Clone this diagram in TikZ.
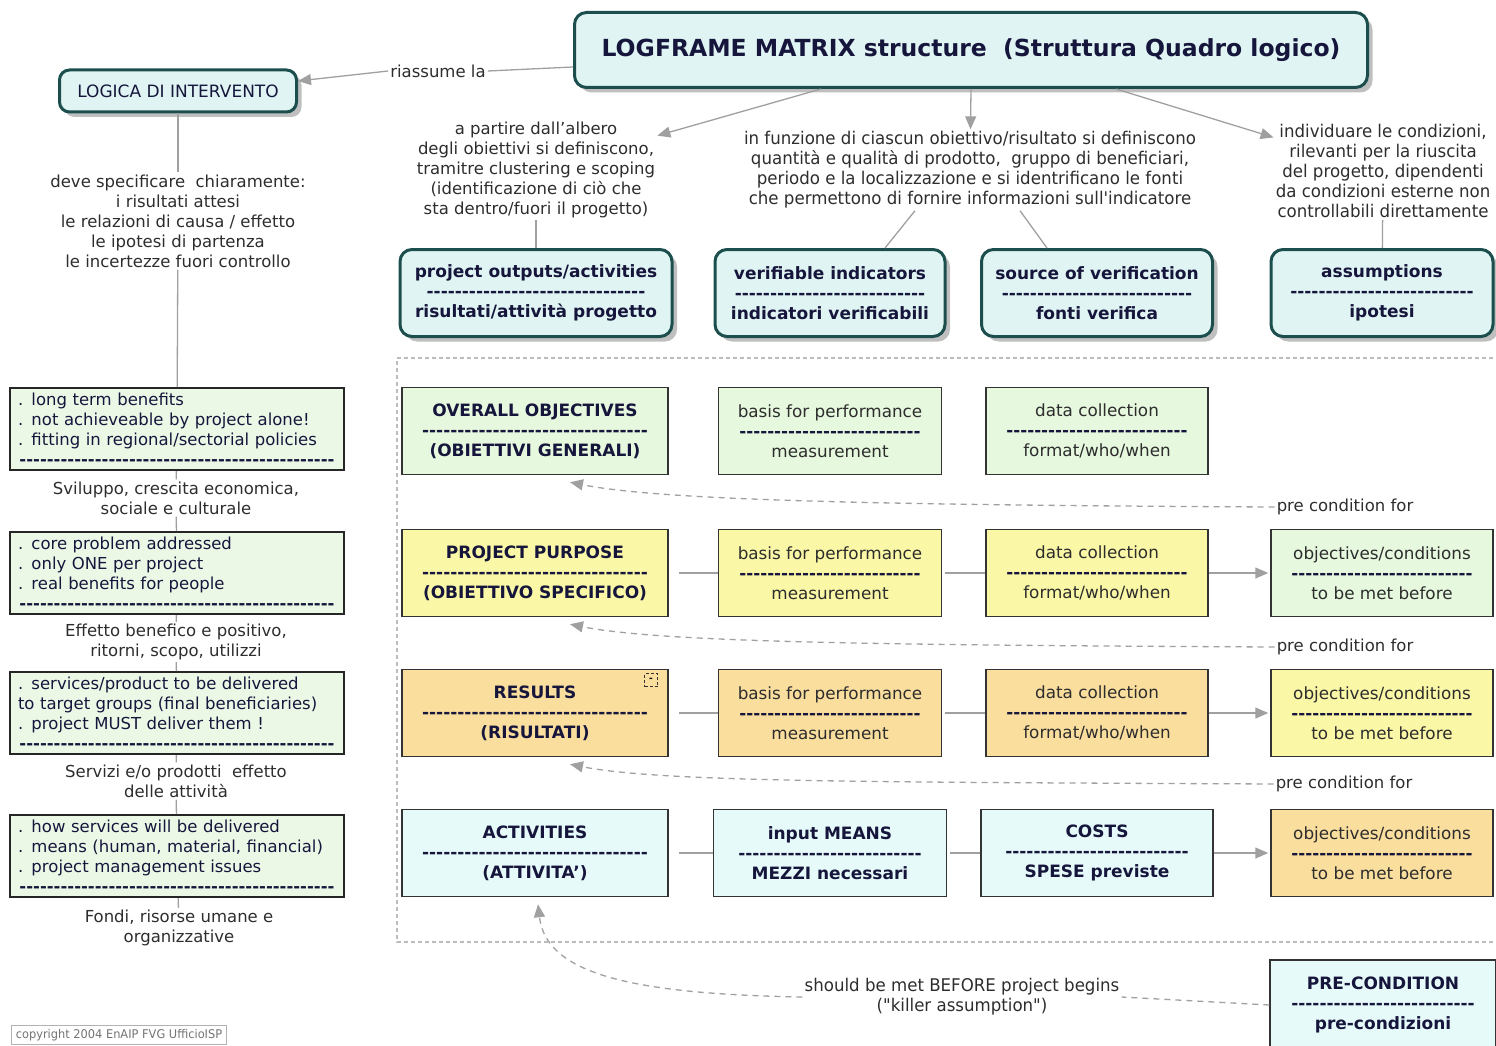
\documentclass[tikz,border=0pt]{standalone}
\usepackage{fontspec}
\setmainfont{DejaVu Sans}
\newfontfamily\narrowfont[FakeStretch=0.95]{DejaVu Sans}
\usetikzlibrary{arrows.meta,shadows}

\definecolor{boxedge}{RGB}{28,78,78}
\definecolor{headfill}{RGB}{224,245,243}
\definecolor{notefill}{RGB}{236,248,230}
\definecolor{greencell}{RGB}{230,248,222}
\definecolor{yellowcell}{RGB}{250,247,166}
\definecolor{orangecell}{RGB}{250,222,158}
\definecolor{cyancell}{RGB}{230,250,250}
\definecolor{inktext}{RGB}{22,22,60}
\definecolor{plaintext}{RGB}{45,45,45}
\definecolor{linkgray}{RGB}{160,160,160}

% row of hyphens used as separator inside the boxes
\newcommand{\hyph}[1]{\hbox to #1{\color{inktext}\cleaders\hbox{\bfseries -}\hfill}}

\tikzset{
  headbox/.style={draw=boxedge, line width=3pt, rounded corners=12pt, fill=headfill,
    drop shadow={shadow xshift=5pt, shadow yshift=-5pt, fill=black, opacity=0.25},
    align=center, text=inktext, font=\fontsize{17}{20}\bfseries\selectfont, minimum height=87pt},
  cell/.style={draw=black!80, line width=1.5pt, align=center, minimum width=266pt,
    minimum height=87pt, text=plaintext, font=\fontsize{16.8}{20}\selectfont},
  boldcell/.style={cell, text=inktext, font=\fontsize{17}{20}\bfseries\selectfont},
  notebox/.style={draw=black!85, line width=2pt, fill=notefill, text width=318pt, align=left,
    inner xsep=8pt, inner ysep=2pt, minimum height=82pt, text=inktext, font=\fontsize{16.5}{20}\selectfont},
  plain/.style={align=center, text=plaintext, font=\fontsize{16.5}{20}\selectfont, inner sep=2pt},
  narrow/.style={align=center, text=plaintext, font=\fontsize{17.5}{20}\narrowfont, inner sep=2pt},
  link/.style={draw=linkgray, line width=1.3pt},
  arrowlink/.style={link, -{Triangle[width=11pt,length=13pt]}},
  precond/.style={link, dash pattern=on 6pt off 5pt, -{Triangle[width=11pt,length=13pt]}},
}

\begin{document}
\begin{tikzpicture}[x=1pt, y=-1pt]
\useasboundingbox (0,0) rectangle (1496,1046);

% dotted frame round the matrix
\draw[linkgray!70, line width=1.2pt, dash pattern=on 4pt off 3pt] (1500,358) -- (397,358) -- (397,942) -- (1500,942);

% heading and intervention logic
\node[headbox, minimum width=793pt, minimum height=75pt, font=\fontsize{23.5}{26}\bfseries\selectfont] (title) at (971,50) {LOGFRAME MATRIX structure\ \ (Struttura Quadro logico)};
\node[headbox, minimum width=237pt, minimum height=42pt, rounded corners=10pt, font=\fontsize{17}{20}\selectfont] (logica) at (178,91) {LOGICA DI INTERVENTO};
\node[plain] (riass) at (438,71) {riassume la};
\node[plain] (deve) at (178,221) {deve specificare\ \ chiaramente:\\i risultati attesi\\le relazioni di causa / effetto\\le ipotesi di partenza\\le incertezze fuori controllo};

% left column
\node[notebox] (lb1) at (177,429) {. long term benefits\\. not achieveable by project alone!\\. fitting in regional/sectorial policies\\\hyph{318pt}};
\node[plain] (lt1) at (176,498) {Sviluppo, crescita economica,\\sociale e culturale};
\node[notebox] (lb2) at (177,573) {. core problem addressed\\. only ONE per project\\. real benefits for people\\\hyph{318pt}};
\node[plain] (lt2) at (176,642) {Effetto benefico e positivo,\\ritorni, scopo, utilizzi};
\node[notebox] (lb3) at (177,713) {. services/product to be delivered\\to target groups (final beneficiaries)\\. project MUST deliver them !\\\hyph{318pt}};
\node[plain] (lt3) at (176,781) {Servizi e/o prodotti\ \ effetto\\delle attività};
\node[notebox] (lb4) at (177,856) {. how services will be delivered\\. means (human, material, financial)\\. project management issues\\\hyph{318pt}};
\node[plain] (lt4) at (179,928) {Fondi, risorse umane e\\organizzative};
\node[draw=black!30, line width=0.8pt, font=\fontsize{12}{13}\narrowfont, text=black!55, inner sep=4pt] (copy) at (119,1035) {copyright 2004 EnAIP FVG UfficioISP};

% explanations under the heading
\node[plain] (t1) at (536,170) {a partire dall'albero\\degli obiettivi si definiscono,\\tramitre clustering e scoping\\(identificazione di ciò che\\sta dentro/fuori il progetto)};
\node[narrow] (t2) at (970,170) {in funzione di ciascun obiettivo/risultato si definiscono\\quantità e qualità di prodotto,\ \ gruppo di beneficiari,\\periodo e la localizzazione e si identrificano le fonti\\che permettono di fornire informazioni sull'indicatore};
\node[narrow] (t3) at (1383,171) {individuare le condizioni,\\rilevanti per la riuscita\\del progetto, dipendenti\\da condizioni esterne non\\controllabili direttamente};

% column headers
\node[headbox, minimum width=272pt] (h1) at (536,293) {project outputs/activities\\\hyph{220pt}\\risultati/attività progetto};
\node[headbox, minimum width=230pt] (h2) at (830,293) {verifiable indicators\\\hyph{197pt}\\indicatori verificabili};
\node[headbox, minimum width=231pt] (h3) at (1097,293) {source of verification\\\hyph{197pt}\\fonti verifica};
\node[headbox, minimum width=222pt] (h4) at (1382,293) {assumptions\\\hyph{190pt}\\ipotesi};

% matrix rows
\node[boldcell, fill=greencell] (ov) at (535,431) {OVERALL OBJECTIVES\\\hyph{230pt}\\(OBIETTIVI GENERALI)};
\node[cell, fill=greencell, minimum width=223pt] (vi1) at (830,431) {basis for performance\\\hyph{186pt}\\measurement};
\node[cell, fill=greencell, minimum width=222pt] (dc1) at (1097,431) {data collection\\\hyph{186pt}\\format/who/when};

\node[boldcell, fill=yellowcell] (pp) at (535,573) {PROJECT PURPOSE\\\hyph{230pt}\\(OBIETTIVO SPECIFICO)};
\node[cell, fill=yellowcell, minimum width=223pt] (vi2) at (830,573) {basis for performance\\\hyph{186pt}\\measurement};
\node[cell, fill=yellowcell, minimum width=222pt] (dc2) at (1097,573) {data collection\\\hyph{186pt}\\format/who/when};
\node[cell, fill=greencell, minimum width=222pt] (oc2) at (1382,573) {objectives/conditions\\\hyph{186pt}\\to be met before};

\node[boldcell, fill=orangecell] (rs) at (535,713) {RESULTS\\\hyph{230pt}\\(RISULTATI)};
\node[draw=black!80, line width=1pt, dash pattern=on 3pt off 2pt, minimum size=13pt, inner sep=0pt, font=\fontsize{9}{9}\bfseries\selectfont] (rsicon) at (651,680) {-};
\node[cell, fill=orangecell, minimum width=223pt] (vi3) at (830,713) {basis for performance\\\hyph{186pt}\\measurement};
\node[cell, fill=orangecell, minimum width=222pt] (dc3) at (1097,713) {data collection\\\hyph{186pt}\\format/who/when};
\node[cell, fill=yellowcell, minimum width=222pt] (oc3) at (1382,713) {objectives/conditions\\\hyph{186pt}\\to be met before};

\node[boldcell, fill=cyancell] (ac) at (535,853) {ACTIVITIES\\\hyph{230pt}\\(ATTIVITA')};
\node[boldcell, fill=cyancell, minimum width=233pt] (im) at (830,853) {input MEANS\\\hyph{186pt}\\MEZZI necessari};
\node[boldcell, fill=cyancell, minimum width=232pt] (co) at (1097,853) {COSTS\\\hyph{190pt}\\SPESE previste};
\node[cell, fill=orangecell, minimum width=222pt] (oc4) at (1382,853) {objectives/conditions\\\hyph{186pt}\\to be met before};

\node[plain] (pc1) at (1345,507) {pre condition for};
\node[plain] (pc2) at (1345,647) {pre condition for};
\node[plain] (pc3) at (1344,784) {pre condition for};

% killer assumption
\node[boldcell, fill=cyancell, minimum width=226pt, minimum height=90pt] (pre) at (1383,1005) {PRE-CONDITION\\\hyph{190pt}\\pre-condizioni};
\node[narrow] (kill) at (962,997) {should be met BEFORE project begins\\("killer assumption")};

% connectors
\draw[link] ([yshift=-17pt]title.west) -- (riass.east);
\draw[arrowlink] (riass.west) -- ([yshift=10pt]logica.east);
\draw[arrowlink] ([xshift=-150pt]title.south) -- (t1);
\draw[arrowlink] (title.south) -- (t2);
\draw[arrowlink] ([xshift=145pt]title.south) -- (t3);
\draw[link] (t1) -- (h1);
\draw[link] ([xshift=-55pt]t2.south) -- ([xshift=55pt]h2.north);
\draw[link] ([xshift=50pt]t2.south) -- ([xshift=-50pt]h3.north);
\draw[link] (t3) -- (h4);

\draw[link] (logica) -- (deve);
\draw[link] (deve) -- (lb1);
\foreach \a/\b in {lb1/lt1, lt1/lb2, lb2/lt2, lt2/lb3, lb3/lt3, lt3/lb4, lb4/lt4}
  \draw[link] (\a) -- (\b);

\foreach \a/\b/\c/\d in {pp/vi2/dc2/oc2, rs/vi3/dc3/oc3, ac/im/co/oc4} {
  \draw[link, shorten <=10pt] (\a) -- (\b);
  \draw[link, shorten <=3pt] (\b) -- (\c);
  \draw[arrowlink, shorten >=2pt] (\c) -- (\d);
}

\draw[precond] (pc1.west) .. controls +(-400,-2) and +(90,18) .. ([xshift=35pt,yshift=-7pt]ov.south);
\draw[precond] (pc2.west) .. controls +(-400,-2) and +(90,18) .. ([xshift=35pt,yshift=-7pt]pp.south);
\draw[precond] (pc3.west) .. controls +(-400,-2) and +(90,18) .. ([xshift=35pt,yshift=-7pt]rs.south);
\draw[link, dash pattern=on 6pt off 5pt] (pre.west) -- (kill.east);
\draw[precond] (kill.west) .. controls +(-170,-3) and +(8,70) .. ([xshift=3pt,yshift=-7pt]ac.south);
\end{tikzpicture}
\end{document}
